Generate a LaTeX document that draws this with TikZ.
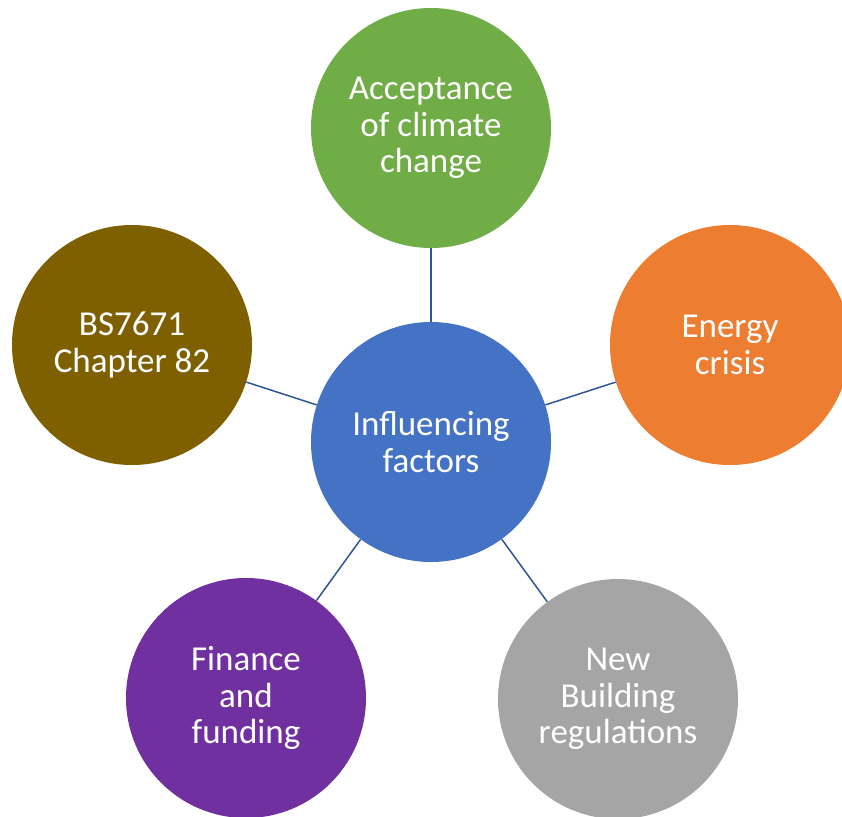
\documentclass[tikz,border=0pt]{standalone}
\usepackage{fontspec}
\setmainfont{Carlito}
\definecolor{cgreen}{HTML}{70AD47}
\definecolor{corange}{HTML}{ED7D31}
\definecolor{cblue}{HTML}{4472C4}
\definecolor{cgray}{HTML}{A5A5A5}
\definecolor{colive}{HTML}{7F6000}
\definecolor{cpurple}{HTML}{7030A0}
\definecolor{cline}{HTML}{2F5597}
\tikzset{
  bubble/.style={circle, minimum size=240pt, inner sep=0pt, draw=none, text=white, align=center, font=\fontsize{35}{36.5}\selectfont},
  conn/.style={draw=cline, line width=1.5pt}
}
\begin{document}
\begin{tikzpicture}[x=1pt,y=-1pt]
\useasboundingbox (0,0) rectangle (842,816);
\clip (0,0) rectangle (842,816);
\node[bubble, fill=cblue] (c) at (431,442) {Influencing\\factors};
\node[bubble, fill=cgreen] (t) at (431,128) {Acceptance\\of climate\\change};
\node[bubble, fill=corange] (r) at (730,345) {Energy\\crisis};
\node[bubble, fill=colive] (l) at (132,345) {BS7671\\Chapter 82};
\node[bubble, fill=cpurple] (bl) at (246,698) {Finance\\and\\funding};
\node[bubble, fill=cgray] (br) at (618,699) {New\\Building\\regulations};
\draw[conn] (c) -- (t);
\draw[conn] (c) -- (r);
\draw[conn] (c) -- (l);
\draw[conn] (c) -- (bl);
\draw[conn] (c) -- (br);
\end{tikzpicture}
\end{document}
